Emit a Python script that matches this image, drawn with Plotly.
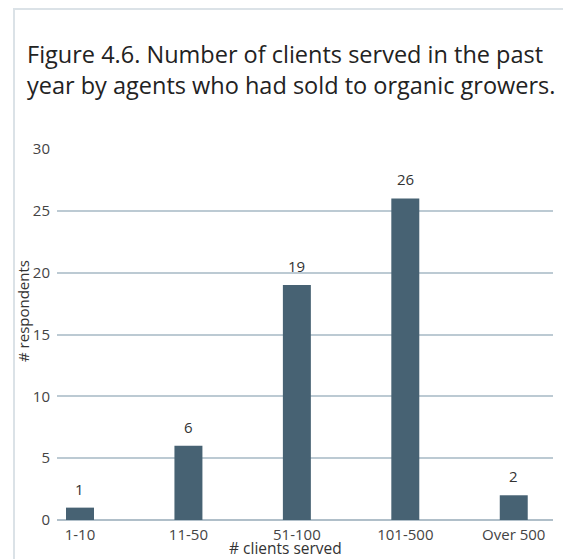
import plotly.graph_objects as go

categories = ["1-10", "11-50", "51-100", "101-500", "Over 500"]
respondents = [1, 6, 19, 26, 2]
y_ticks = [0, 5, 10, 15, 20, 25, 30]

title_text = "Figure 4.6. Number of clients served in the past<br>year by agents who had sold to organic growers."

W, H = 563, 551
ML, MR, MT, MB = 49, 18, 141, 39
PW, PH = W - ML - MR, H - MT - MB

fig = go.Figure()
fig.add_trace(go.Bar(
    x=categories, y=respondents,
    marker=dict(color="#476273", line=dict(width=0)),
    hoverinfo="x+y",
))

label_annotations = [
    dict(x=c, y=v, xref="x", yref="y", text=str(v), showarrow=False,
         yanchor="middle", xanchor="center", yshift=19,
         font=dict(family="Open Sans", size=15, color="#333333"))
    for c, v in zip(categories, respondents)
]

fig.update_layout(
    width=W, height=H,
    paper_bgcolor="white", plot_bgcolor="white",
    margin=dict(l=ML, r=MR, t=MT, b=MB),
    font=dict(family="Open Sans", color="#444444"),
    bargap=0.742,
    showlegend=False,
    title=dict(text=title_text, x=19 / W, xref="container", xanchor="left",
               y=0.90, yref="container", yanchor="top",
               font=dict(family="Open Sans", size=23.5, color="#222222")),
    xaxis=dict(type="category", range=[-0.212, 4.362], showgrid=False,
               showline=False, ticks="", ticklabelstandoff=4,
               tickfont=dict(size=15, color="#444444")),
    yaxis=dict(range=[0, 30], tickvals=y_ticks, showgrid=True,
               gridcolor="#bccad3", gridwidth=2, zeroline=True,
               zerolinecolor="#b0bfc9", zerolinewidth=2,
               ticks="", ticklabelstandoff=6,
               tickfont=dict(size=15, color="#444444")),
    shapes=[dict(type="rect", xref="paper", yref="paper",
                 x0=(6 - ML) / PW, x1=1.2, y0=-0.3, y1=(H - MB - 1) / PH,
                 line=dict(color="#dbe2e7", width=2), fillcolor="rgba(0,0,0,0)",
                 layer="below")],
    annotations=label_annotations + [
        dict(text="# clients served", x=(277 - ML) / PW, y=-28 / PH,
             xref="paper", yref="paper",
             xanchor="center", yanchor="middle", showarrow=False,
             font=dict(family="Open Sans", size=15.5, color="#333333")),
        dict(text="# respondents", x=(15 - ML) / PW, y=(H - MB - 303) / PH,
             xref="paper", yref="paper",
             xanchor="center", yanchor="middle", textangle=-90, showarrow=False,
             font=dict(family="Open Sans", size=15, color="#333333")),
    ],
)

fig.write_html("out.html")
